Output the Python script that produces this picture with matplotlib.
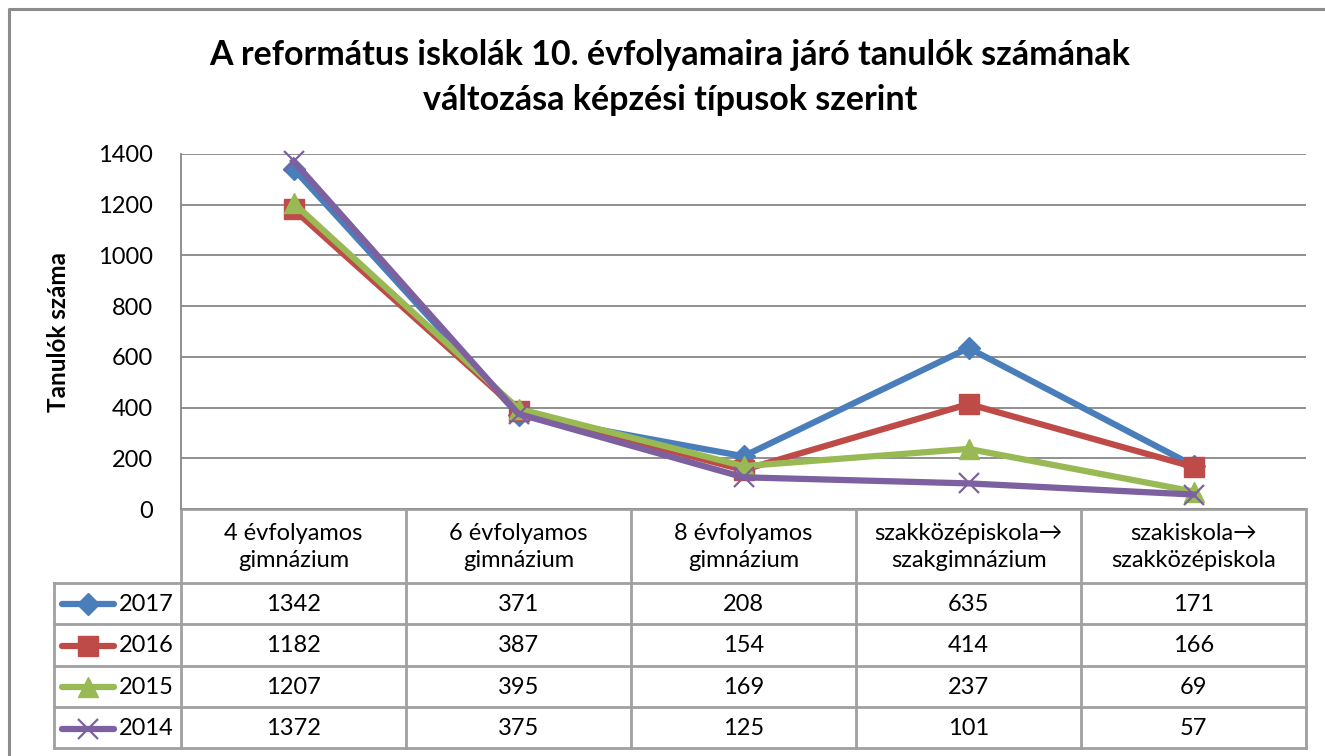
import matplotlib
matplotlib.use("Agg")
import matplotlib.pyplot as plt
import numpy as np

plt.rcParams['font.family'] = ['Lato', 'DejaVu Sans']

categories = ["4 évfolyamos\ngimnázium", "6 évfolyamos\ngimnázium", "8 évfolyamos\ngimnázium",
              "szakközépiskola→\nszakgimnázium", "szakiskola→\nszakközépiskola"]
years = ["2017", "2016", "2015", "2014"]
v2017 = [1342, 371, 208, 635, 171]
v2016 = [1182, 387, 154, 414, 166]
v2015 = [1207, 395, 169, 237, 69]
v2014 = [1372, 375, 125, 101, 57]
series = [v2017, v2016, v2015, v2014]
colors = ["#4A7EBB", "#BE4B48", "#98B954", "#7D60A0"]
markers = ["D", "s", "^", "x"]
msizes = [11, 14, 14, 14]
yticks = [0, 200, 400, 600, 800, 1000, 1200, 1400]

W, H = 1325, 756
fig = plt.figure(figsize=(W / 100, H / 100), dpi=100)

ov = fig.add_axes([0, 0, 1, 1])
ov.set_xlim(0, W)
ov.set_ylim(H, 0)
ov.axis('off')

# outer frame
ov.plot([9, 9, W + 5], [H + 5, 9, 9], color="#8C8C8C", lw=2.2, solid_capstyle='butt')

# main axes
L, R, T, B = 181, 1306, 154, 509
ax = fig.add_axes([L / W, (H - B) / H, (R - L) / W, (B - T) / H])
x = np.arange(len(categories))
for vals, c, m, ms in zip(series, colors, markers, msizes):
    kw = dict(markeredgewidth=1.6) if m == "x" else dict(markeredgecolor=c)
    ax.plot(x, vals, color=c, lw=4.5, marker=m, markersize=ms, markerfacecolor=c, **kw,
            clip_on=False, zorder=3)
ax.set_xlim(-0.5, len(categories) - 0.5)
ax.set_ylim(0, 1400)
ax.set_yticks(yticks)
ax.set_yticklabels([str(t) for t in yticks], fontsize=17)
ax.set_xticks([])
ax.grid(axis='y', color="#878787", lw=1.3)
ax.set_axisbelow(True)
for s in ['top', 'right', 'bottom']:
    ax.spines[s].set_visible(False)
ax.spines['left'].set_color("#878787")
ax.spines['left'].set_linewidth(1.3)
ax.tick_params(axis='y', length=0, pad=20)
ax.set_ylabel("Tanulók száma", fontsize=17.5, fontweight='bold', labelpad=20)

# title
fig.text(670 / W, 1 - 55 / H, "A református iskolák 10. évfolyamaira járó tanulók számának",
         ha='center', va='center', fontsize=24.5, fontweight='bold')
fig.text(670 / W, 1 - 100 / H, "változása képzési típusok szerint",
         ha='center', va='center', fontsize=24.5, fontweight='bold')

# data table
colw = (R - L) / len(categories)
rows_y = [582.7, 624, 665.7, 707, 748]
head_top = 509.3
lc = "#A0A0A0"
lw = 2
ov.plot([L, R], [head_top, head_top], color=lc, lw=lw)
for yy in rows_y:
    ov.plot([54, R], [yy, yy], color=lc, lw=lw)
for i in range(len(categories) + 1):
    xx = L + i * colw
    ov.plot([xx, xx], [head_top, rows_y[-1]], color=lc, lw=lw)
ov.plot([54, 54], [rows_y[0], rows_y[-1]], color=lc, lw=lw)

for i, cat in enumerate(categories):
    cx = L + (i + 0.5) * colw
    ov.text(cx, (head_top + rows_y[0]) / 2 + 1, cat, ha='center', va='center', fontsize=17,
            linespacing=1.4)
for r, (yr, vals, c, m, ms) in enumerate(zip(years, series, colors, markers, msizes)):
    cy = (rows_y[r] + rows_y[r + 1]) / 2 + 1
    ov.plot([62, 114], [cy, cy], color=c, lw=4.5, solid_capstyle='round')
    kw = dict(markeredgewidth=1.6) if m == "x" else dict(markeredgecolor=c)
    ov.plot([88], [cy], marker=m, color=c, markersize=ms, markerfacecolor=c, **kw)
    ov.text(119, cy, yr, ha='left', va='center', fontsize=17)
    for i, v in enumerate(vals):
        cx = L + (i + 0.5) * colw
        ov.text(cx, cy, str(v), ha='center', va='center', fontsize=17)

fig.savefig("out.png", dpi=100)
